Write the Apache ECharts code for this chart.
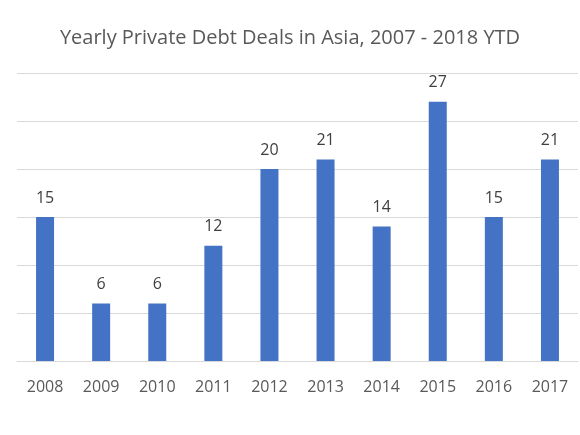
<!DOCTYPE html>
<html>
<head>
<meta charset="utf-8">
<script src="https://cdn.jsdelivr.net/npm/echarts@6/dist/echarts.min.js"></script>
<style>
  html, body { margin: 0; padding: 0; background: #fff; }
  #chart { width: 580px; height: 435px; }
</style>
</head>
<body>
<div id="chart"></div>
<script>
var YEARS = ['2008', '2009', '2010', '2011', '2012', '2013', '2014', '2015', '2016', '2017'];
var DEALS = [15, 6, 6, 12, 20, 21, 14, 27, 15, 21];
var TITLE = 'Yearly Private Debt Deals in Asia, 2007 - 2018 YTD';

var myChart = echarts.init(document.getElementById('chart'), null, { renderer: 'canvas' });

var option = {
    animation: false,
    textStyle: { fontFamily: 'Open Sans' },
    title: {
        text: TITLE,
        left: 'center',
        top: 23,
        textStyle: { color: '#595959', fontSize: 20, fontWeight: 'normal', fontFamily: 'Open Sans' }
    },
    grid: { left: 17, right: 2, top: 73, bottom: 74, containLabel: false },
    xAxis: {
        type: 'category',
        data: YEARS,
        axisLine: { lineStyle: { color: '#d9d9d9', width: 1 } },
        axisTick: { show: false },
        axisLabel: { color: '#595959', fontSize: 16, margin: 18 }
    },
    yAxis: {
        type: 'value',
        min: 0,
        max: 30,
        interval: 5,
        axisLabel: { show: false },
        axisLine: { show: false },
        axisTick: { show: false },
        splitLine: { lineStyle: { color: '#d9d9d9', width: 1 } }
    },
    series: [{
        type: 'bar',
        data: DEALS,
        barWidth: 18,
        itemStyle: { color: '#4472c4' },
        label: {
            show: true,
            position: 'top',
            distance: 11,
            color: '#404040',
            fontSize: 16
        }
    }]
};
myChart.setOption(option);
</script>
</body>
</html>
